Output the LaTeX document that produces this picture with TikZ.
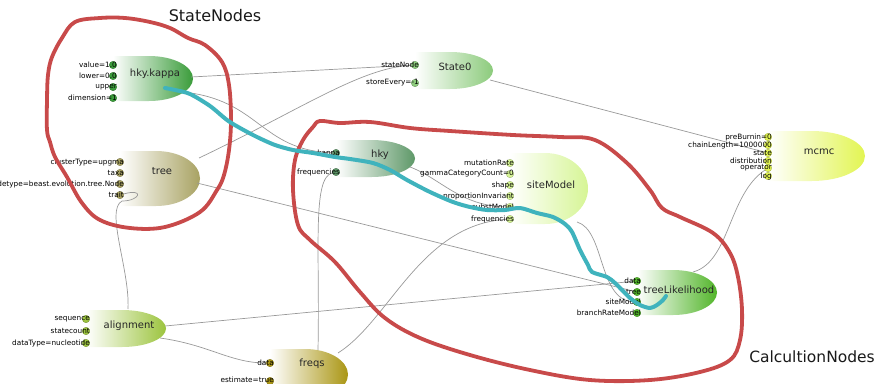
\documentclass[tikz,border=0pt]{standalone}
\usepackage{fontspec}
\setmainfont{DejaVu Sans}
\definecolor{redl}{HTML}{C84A4A}
\definecolor{teall}{HTML}{3FB3BD}
\definecolor{ckappa}{HTML}{3A9C3A}
\definecolor{ctree}{HTML}{A8A262}
\definecolor{cstate}{HTML}{8CCB7C}
\definecolor{chky}{HTML}{5E9868}
\definecolor{csite}{HTML}{D6F595}
\definecolor{cmcmc}{HTML}{E2F552}
\definecolor{ctl}{HTML}{52B52A}
\definecolor{caln}{HTML}{9CC43E}
\definecolor{cfreq}{HTML}{AA9614}
\newcommand\bodyshape[5]{%
  \pgfmathsetmacro\nbM{#4-0.55*(#4-#1)}%
  \pgfmathsetmacro\nbC{(#2+#3)/2}%
  \pgfmathsetmacro\nbRx{#4-\nbM}%
  \pgfmathsetmacro\nbRy{(#3-#2)/2}%
  \pgfmathsetmacro\nbKx{\nbM+0.5523*\nbRx}%
  \pgfmathsetmacro\nbKa{\nbC-0.5523*\nbRy}%
  \pgfmathsetmacro\nbKb{\nbC+0.5523*\nbRy}%
  \shade[left color=white, right color=#5] (#1,#2) -- (\nbM,#2) .. controls (\nbKx,#2) and (#4,\nbKa) .. (#4,\nbC) .. controls (#4,\nbKb) and (\nbKx,#3) .. (\nbM,#3) -- (#1,#3) -- cycle;%
}
\begin{document}
\begin{tikzpicture}[x=1pt,y=-1pt,
  port/.style={circle,inner sep=0pt,minimum size=7.5pt,draw=#1!70!black,line width=0.3pt,fill=#1},
  plabel/.style={anchor=east,inner sep=0pt,font=\fontsize{7.3}{8}\selectfont,text=black},
  title/.style={inner sep=0pt,font=\fontsize{10}{12}\selectfont,text=black!85},
  wire/.style={draw=black!40,line width=0.7pt},
  redline/.style={draw=redl,line width=3.8pt,line cap=round,line join=round},
  tealline/.style={draw=teall,line width=4pt,line cap=round,line join=round},
  bigtext/.style={inner sep=0pt,text=black!90}]
\useasboundingbox (0,0) rectangle (882,383);
\clip (0,0) rectangle (882,383);

% bodies
\bodyshape{113}{56}{101}{193}{ckappa}
\bodyshape{120}{151}{206}{200}{ctree}
\bodyshape{415}{52}{89}{493}{cstate}
\bodyshape{336}{140}{177}{415}{chky}
\bodyshape{510}{153}{224}{588}{csite}
\bodyshape{768}{131}{181}{865}{cmcmc}
\bodyshape{637}{270}{315}{717}{ctl}
\bodyshape{86}{310}{347}{166}{caln}
\bodyshape{270}{349}{400}{348}{cfreq}

% ports
\node[port=ckappa] (kp-value) at (113,65) {};
\node[port=ckappa] (kp-lower) at (113,76) {};
\node[port=ckappa] (kp-upper) at (113,87) {};
\node[port=ckappa] (kp-dim) at (113,98) {};
\node[port=ctree] (tr-cluster) at (120,162) {};
\node[port=ctree] (tr-taxa) at (120,173) {};
\node[port=ctree] (tr-ntype) at (120,184) {};
\node[port=ctree] (tr-trait) at (120,195) {};
\node[port=cstate] (st-node) at (415,65) {};
\node[port=cstate] (st-every) at (415,83) {};
\node[port=chky] (hk-kappa) at (336,153) {};
\node[port=chky] (hk-freq) at (336,172) {};
\node[port=csite] (sm-mut) at (510,163) {};
\node[port=csite] (sm-gamma) at (510,174) {};
\node[port=csite] (sm-shape) at (510,185) {};
\node[port=csite] (sm-prop) at (510,196) {};
\node[port=csite] (sm-subst) at (510,207) {};
\node[port=csite] (sm-freq) at (510,219) {};
\node[port=cmcmc] (mc-pre) at (768,137) {};
\node[port=cmcmc] (mc-chain) at (768,145) {};
\node[port=cmcmc] (mc-state) at (768,153) {};
\node[port=cmcmc] (mc-dist) at (768,161) {};
\node[port=cmcmc] (mc-op) at (768,168) {};
\node[port=cmcmc] (mc-log) at (768,176) {};
\node[port=ctl] (tl-data) at (637,281) {};
\node[port=ctl] (tl-tree) at (637,292) {};
\node[port=ctl] (tl-site) at (637,302) {};
\node[port=ctl] (tl-brm) at (637,313) {};
\node[port=caln] (al-seq) at (86,319) {};
\node[port=caln] (al-sc) at (86,331) {};
\node[port=caln] (al-dt) at (86,343) {};
\node[port=cfreq] (fq-data) at (270,363) {};
\node[port=cfreq] (fq-est) at (270,381) {};

% output points
\coordinate (kappaOutA) at (191,77);
\coordinate (kappaOutB) at (183,92);
\coordinate (treeOutA) at (199,158);
\coordinate (treeOutB) at (197,183);
\coordinate (stateOut) at (490,80);
\coordinate (alnOutA) at (165,326);
\coordinate (alnOutB) at (160,338);
\coordinate (alnTop) at (128,309);
\coordinate (freqsTopA) at (318,350);
\coordinate (freqsTopB) at (338,353);
\coordinate (hkyOut) at (410,167);
\coordinate (siteOut) at (577,222);
\coordinate (tlOut) at (693,272);

% wires
\draw[wire] (kappaOutA) -- (st-node);
\draw[wire] (kappaOutB) .. controls (260,100) and (260,150) .. (hk-kappa);
\draw[wire] (treeOutA) .. controls (300,110) and (360,68) .. (st-node);
\draw[wire] (stateOut) -- (mc-state);
\draw[wire] (treeOutB) -- (tl-tree);
\draw[wire] (alnOutA) -- (tl-data);
\draw[wire] (alnOutB) .. controls (210,345) and (230,363) .. (fq-data);
\draw[wire] (tr-trait) .. controls (145,188) and (140,201) .. (122,201) .. controls (105,210) and (130,270) .. (alnTop);
\draw[wire] (freqsTopA) .. controls (320,250) and (312,178) .. (hk-freq);
\draw[wire] (freqsTopB) .. controls (390,320) and (420,225) .. (sm-freq);
\draw[wire] (hkyOut) .. controls (440,178) and (460,206) .. (sm-subst);
\draw[wire] (siteOut) .. controls (605,230) and (598,300) .. (tl-site);
\draw[wire] (tlOut) .. controls (730,262) and (728,195) .. (mc-op);

% port labels
\node[plabel] (l-kv) at (117,65) {value=1.0};
\node[plabel] (l-kl) at (117,76) {lower=0.0};
\node[plabel] (l-ku) at (117,87) {upper};
\node[plabel] (l-kd) at (117,98) {dimension=1};
\node[plabel] (l-tc) at (124,162) {clusterType=upgma};
\node[plabel] (l-tt) at (124,173) {taxa};
\node[plabel] (l-tn) at (124,184) {nodetype=beast.evolution.tree.Node};
\node[plabel] (l-tr) at (124,195) {trait};
\node[plabel] (l-sn) at (419,65) {stateNode};
\node[plabel] (l-se) at (419,83) {storeEvery=-1};
\node[plabel] (l-hk) at (340,153) {kappa};
\node[plabel] (l-hf) at (340,172) {frequencies};
\node[plabel] (l-sm1) at (514,163) {mutationRate};
\node[plabel] (l-sm2) at (514,174) {gammaCategoryCount=0};
\node[plabel] (l-sm3) at (514,185) {shape};
\node[plabel] (l-sm4) at (514,196) {proportionInvariant};
\node[plabel] (l-sm5) at (514,207) {substModel};
\node[plabel] (l-sm6) at (514,219) {frequencies};
\node[plabel] (l-mc1) at (772,137) {preBurnin=0};
\node[plabel] (l-mc2) at (772,145) {chainLength=1000000};
\node[plabel] (l-mc3) at (772,153) {state};
\node[plabel] (l-mc4) at (772,161) {distribution};
\node[plabel] (l-mc5) at (772,168) {operator};
\node[plabel] (l-mc6) at (772,176) {log};
\node[plabel] (l-tl1) at (641,281) {data};
\node[plabel] (l-tl2) at (641,292) {tree};
\node[plabel] (l-tl3) at (641,302) {siteModel};
\node[plabel] (l-tl4) at (641,313) {branchRateModel};
\node[plabel] (l-al1) at (90,319) {sequence};
\node[plabel] (l-al2) at (90,331) {statecount};
\node[plabel] (l-al3) at (90,343) {dataType=nucleotide};
\node[plabel] (l-fq1) at (274,363) {data};
\node[plabel] (l-fq2) at (274,380) {estimate=true};

% titles
\node[title] (hkykappa) at (155,74) {hky.kappa};
\node[title] (tree) at (162,171) {tree};
\node[title] (state0) at (455,67) {State0};
\node[title] (hky) at (380,155) {hky};
\node[title] (siteModel) at (551,185) {siteModel};
\node[title] (mcmc) at (819,152) {mcmc};
\node[title] (treeLikelihood) at (679,290) {treeLikelihood};
\node[title] (alignment) at (129,326) {alignment};
\node[title] (freqs) at (312,364) {freqs};

% hand drawn outlines
\draw[redline] plot[smooth cycle, tension=0.6] coordinates {(100,18) (75,22) (62,38) (52,57) (48,75) (47,100) (47,130) (50,142) (55,157) (67,177) (82,203) (100,220) (130,228) (165,227) (200,212) (217,190) (224,175) (229,150) (231,120) (229,85) (222,62) (205,45) (188,38) (170,28) (150,22) (125,18)};
\draw[redline] plot[smooth cycle, tension=0.6] coordinates {(320,121) (340,123) (370,122) (410,128) (450,131) (513,135) (560,137) (595,140) (627,163) (650,190) (662,208) (680,217) (713,233) (730,253) (738,277) (742,310) (740,340) (730,360) (700,372) (650,380) (590,380) (530,370) (470,355) (420,338) (385,318) (360,292) (335,262) (310,240) (298,225) (293,190) (295,160) (303,140) (313,127)};
\draw[tealline] plot[smooth, tension=0.5] coordinates {(165,88) (175,90) (190,94) (210,106) (227,120) (240,128) (257,137) (275,145) (293,150) (313,153) (335,157) (350,159) (373,163) (390,170) (407,180) (430,192) (453,202) (470,207) (487,210) (505,210) (520,208) (537,213) (553,217) (565,224) (572,232) (580,250) (588,265) (592,272) (607,277) (615,283) (622,290) (630,298) (640,305) (650,308) (657,305) (663,300) (666,296)};

\node[bigtext,font=\fontsize{16}{18}\selectfont] (statenodes) at (215,16) {StateNodes};
\node[bigtext,font=\fontsize{15.5}{18}\selectfont] (calcnodes) at (812,357) {CalcultionNodes};
\end{tikzpicture}
\end{document}
